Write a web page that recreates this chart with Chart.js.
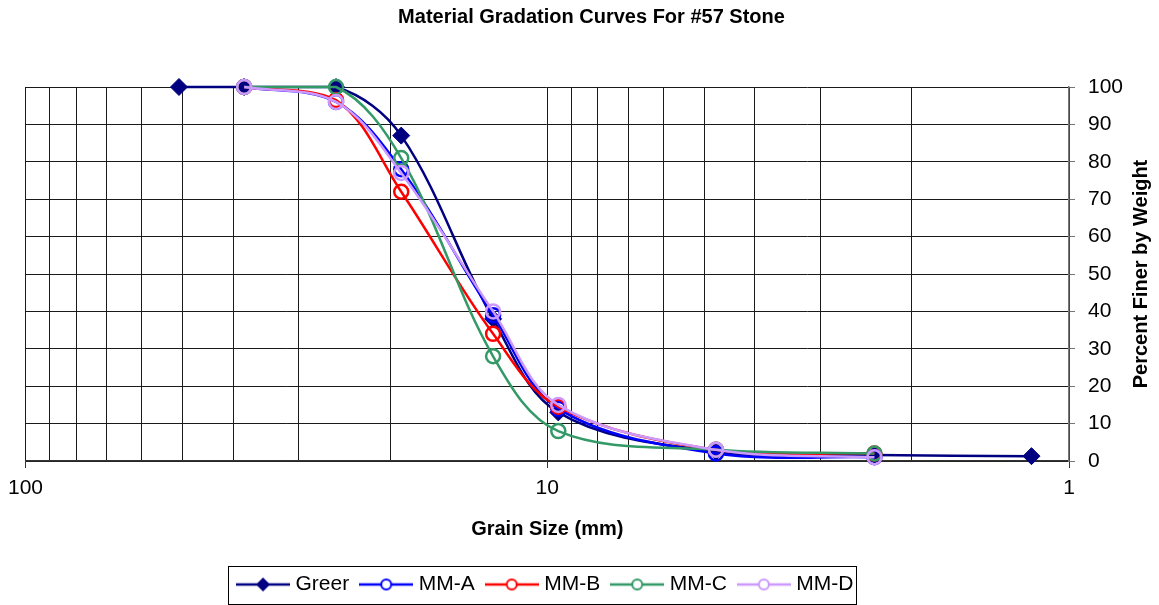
<!DOCTYPE html>
<html>
<head>
<meta charset="utf-8">
<script src="https://cdn.jsdelivr.net/npm/chart.js@4.4.1/dist/chart.umd.min.js"></script>
<style>
  html, body { margin: 0; padding: 0; background: #fff; }
  #wrap { width: 1159px; height: 605px; }
</style>
</head>
<body>
<div id="wrap"><canvas id="gradacao" width="1159" height="605"></canvas></div>
<script>
/* globals Chart:false */
(() => {
  'use strict'

  // sieve openings in mm: 2", 1.5", 1", 3/4", 1/2", 3/8", #4, #8, #16
  const sieveSizes = [50.8, 38.1, 25.4, 19.05, 12.7, 9.525, 4.75, 2.36, 1.18]
  const greer = [100, 100, 100, 87, 38, 13, 2.5, 1.6, 1.3]
  const mmA = [null, 100, 96, 78, 39, 14, 2, 1, null]
  const mmB = [null, 100, 96.5, 72, 34, 14.5, 3, 2, null]
  const mmC = [null, 100, 100, 81, 28, 8, 3, 2, null]
  const mmD = [null, 100, 96, 77, 40, 15, 3, 1, null]

  // vertical grid lines and the ones that get a label
  const gridSizes = [100, 90, 80, 70, 60, 50, 40, 30, 20, 10, 9, 8, 7, 6, 5, 4, 3, 2, 1]
  const labeledSizes = [100, 10, 1]

  const FONT = "'Liberation Sans', Arial, sans-serif"
  Chart.defaults.font.family = FONT
  Chart.defaults.color = '#000'

  const toPoints = (vals) => sieveSizes
    .map((x, i) => ({ x: x, y: vals[i] }))
    .filter(p => p.y !== null)

  // legend sample: a short line with the marker in the middle
  function legendIcon(color, style) {
    const c = document.createElement('canvas')
    c.width = 54
    c.height = 18
    const g = c.getContext('2d')
    g.strokeStyle = color
    g.lineWidth = 2.5
    g.beginPath()
    g.moveTo(0, 9)
    g.lineTo(54, 9)
    g.stroke()
    if (style === 'diamond') {
      g.fillStyle = color
      g.beginPath()
      g.moveTo(27, 2)
      g.lineTo(34, 9)
      g.lineTo(27, 16)
      g.lineTo(20, 9)
      g.closePath()
      g.fill()
    } else {
      g.fillStyle = '#fff'
      g.beginPath()
      g.arc(27, 9, 5, 0, Math.PI * 2)
      g.fill()
      g.lineWidth = 2
      g.stroke()
    }
    return c
  }

  const series = [
    { label: 'Greer', data: greer, color: '#000080', marker: 'diamond' },
    { label: 'MM-A', data: mmA, color: '#0000FF', marker: 'circle' },
    { label: 'MM-B', data: mmB, color: '#FF0000', marker: 'circle' },
    { label: 'MM-C', data: mmC, color: '#339966', marker: 'circle' },
    { label: 'MM-D', data: mmD, color: '#CC99FF', marker: 'circle' }
  ]

  const datasets = series.map((s, i) => ({
    label: s.label,
    data: toPoints(s.data),
    borderColor: s.color,
    backgroundColor: s.color,
    borderWidth: 2.5,
    tension: 0.35,
    clip: false,
    pointStyle: s.marker === 'diamond' ? 'rectRot' : 'circle',
    pointRadius: s.marker === 'diamond' ? 8.5 : 7,
    pointBorderWidth: s.marker === 'diamond' ? 1 : 2.5,
    pointBackgroundColor: s.marker === 'diamond' ? s.color : 'rgba(0,0,0,0)',
    pointBorderColor: s.color,
    order: series.length - i,
    icon: legendIcon(s.color, s.marker)
  }))

  // right axis title reads bottom-to-top, legend has a frame
  const extras = {
    id: 'extras',
    afterDraw(chart) {
      const { ctx, chartArea } = chart
      ctx.save()
      ctx.translate(chart.scales.y.right - 18, (chartArea.top + chartArea.bottom) / 2)
      ctx.rotate(-Math.PI / 2)
      ctx.font = 'bold 20px ' + FONT
      ctx.textAlign = 'center'
      ctx.textBaseline = 'middle'
      ctx.fillStyle = '#000'
      ctx.fillText('Percent Finer by Weight', 0, 0)
      ctx.restore()

      const hb = chart.legend.legendHitBoxes
      if (hb && hb.length) {
        const first = hb[0]
        const last = hb[hb.length - 1]
        const mid = first.top + first.height / 2
        ctx.save()
        ctx.strokeStyle = '#000'
        ctx.lineWidth = 1
        ctx.strokeRect(Math.round(first.left - 13) + 0.5, Math.round(mid - 19) + 0.5,
          Math.round(last.left + last.width + 3 - (first.left - 13)), 38)
        ctx.restore()
      }
    }
  }

  const ctx = document.getElementById('gradacao')
  // eslint-disable-next-line no-unused-vars
  const grafico = new Chart(ctx, {
    type: 'line',
    data: { datasets: datasets },
    plugins: [extras],
    options: {
      responsive: false,
      animation: false,
      layout: { padding: { left: 24, right: 0, top: 0, bottom: 0 } },
      scales: {
        x: {
          type: 'logarithmic',
          reverse: true,
          min: 1,
          max: 100,
          afterBuildTicks: (scale) => { scale.ticks = gridSizes.map(v => ({ value: v })) },
          afterFit: (scale) => { scale.height = 98 },
          ticks: {
            autoSkip: false,
            maxRotation: 0,
            padding: 8,
            font: { size: 21 },
            callback: (v) => labeledSizes.includes(v) ? String(v) : ''
          },
          grid: {
            color: '#1a1a1a',
            lineWidth: 1,
            tickLength: 7,
            tickColor: (c) => (c.tick && labeledSizes.includes(c.tick.value)) ? '#333' : 'rgba(0,0,0,0)'
          },
          border: { color: '#333', width: 1.5 },
          title: {
            display: true,
            text: 'Grain Size (mm)',
            font: { size: 20, weight: 'bold' },
            padding: { top: 0, bottom: 18 }
          }
        },
        y: {
          position: 'right',
          min: 0,
          max: 100,
          afterFit: (scale) => { scale.width = 90 },
          ticks: { stepSize: 10, padding: 13, font: { size: 21 } },
          grid: { color: '#1a1a1a', lineWidth: 1, tickLength: 6, tickColor: '#777' },
          border: { color: '#777', width: 1.5 }
        }
      },
      plugins: {
        title: {
          display: true,
          text: 'Material Gradation Curves For #57 Stone',
          font: { size: 20, weight: 'bold' },
          padding: { top: 5, bottom: 58 }
        },
        legend: {
          position: 'bottom',
          fullSize: false,
          labels: {
            usePointStyle: true,
            pointStyleWidth: 44,
            padding: 15,
            font: { size: 21 },
            color: '#000',
            generateLabels: (chart) => chart.data.datasets.map((d, i) => ({
              text: d.label,
              pointStyle: d.icon,
              fillStyle: d.borderColor,
              strokeStyle: d.borderColor,
              lineWidth: 0,
              hidden: false,
              datasetIndex: i
            }))
          }
        },
        tooltip: { enabled: false }
      }
    }
  })
})()
</script>
</body>
</html>
